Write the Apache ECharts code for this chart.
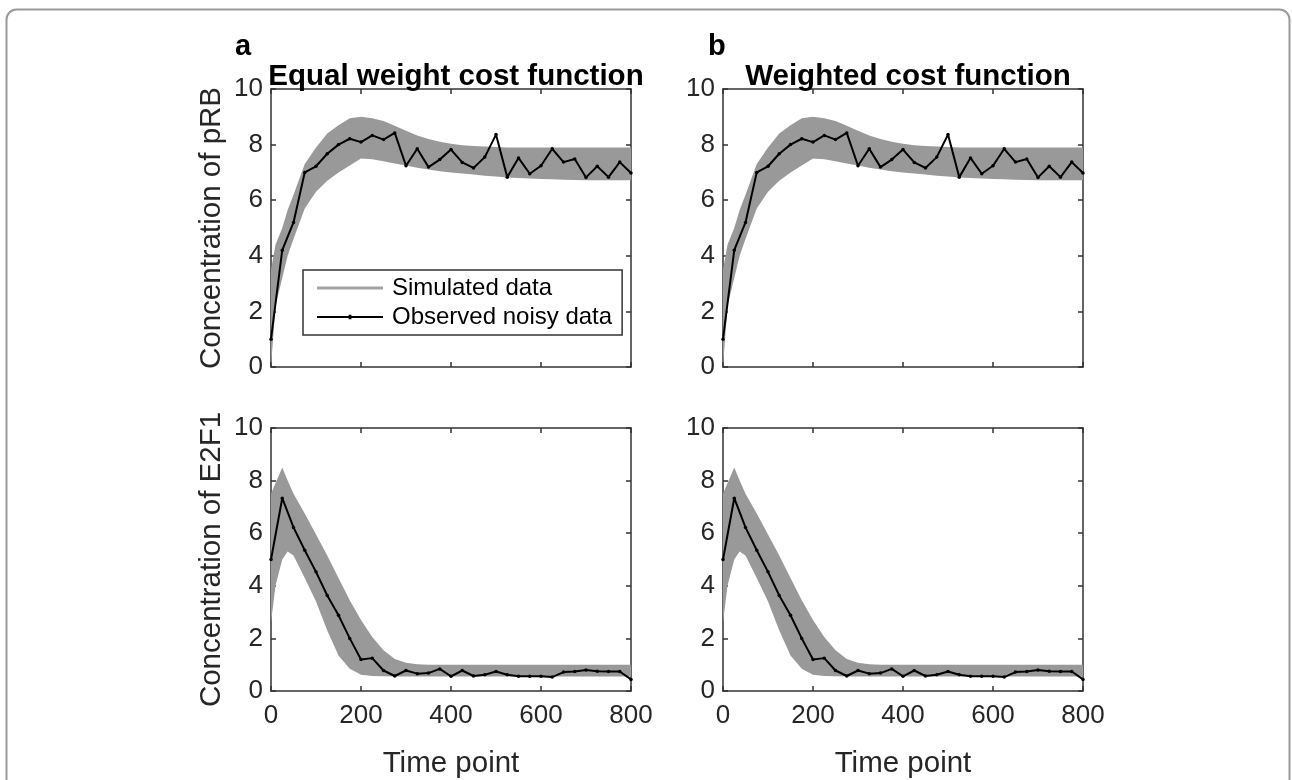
<!DOCTYPE html>
<html>
<head>
<meta charset="utf-8">
<title>Cost function comparison</title>
<script src="https://cdn.jsdelivr.net/npm/echarts@6/dist/echarts.min.js"></script>
<style>
  html, body { margin: 0; padding: 0; background: #ffffff; }
  #chart { width: 1292px; height: 780px; }
</style>
</head>
<body>
<div id="chart"></div>
<script>
// Sampling times of the observed (noisy) measurements
const obsTime = [0, 25, 50, 75, 100, 125, 150, 175, 200, 225, 250, 275, 300, 325, 350, 375, 400,
                 425, 450, 475, 500, 525, 550, 575, 600, 625, 650, 675, 700, 725, 750, 775, 800];

// Observed noisy pRB concentration
const pRBObserved = [1.0, 4.2, 5.2, 7.0, 7.22, 7.67, 8.0, 8.21, 8.09, 8.33, 8.18, 8.42, 7.24, 7.85, 7.19, 7.46, 7.82,
                     7.36, 7.16, 7.55, 8.36, 6.83, 7.52, 6.95, 7.24, 7.85, 7.37, 7.48, 6.82, 7.22, 6.83, 7.37, 6.98];

// Observed noisy E2F1 concentration
const e2f1Observed = [5.0, 7.33, 6.22, 5.35, 4.53, 3.63, 2.88, 2.0, 1.2, 1.25, 0.78, 0.57, 0.78, 0.66, 0.68, 0.84, 0.56,
                      0.78, 0.57, 0.62, 0.74, 0.62, 0.56, 0.56, 0.56, 0.53, 0.72, 0.74, 0.8, 0.75, 0.74, 0.74, 0.44];

// Time grid of the simulated envelopes
const bandTime = [0, 10, 25, 37, 50, 75, 100, 125, 150, 175, 200, 225, 250, 275, 300, 325, 350, 375, 400,
                  425, 450, 475, 500, 525, 550, 575, 600, 625, 650, 675, 700, 725, 750, 775, 800];

// Simulated pRB envelope (upper / lower)
const pRBUpper = [3.5, 4.4, 5.0, 5.65, 6.2, 7.3, 7.9, 8.4, 8.7, 8.95, 9.0, 8.95, 8.85, 8.68, 8.5, 8.33, 8.2, 8.1, 8.03,
                  7.98, 7.95, 7.93, 7.91, 7.9, 7.9, 7.9, 7.9, 7.9, 7.9, 7.9, 7.9, 7.9, 7.9, 7.9, 7.9];
const pRBLower = [0, 2.2, 3.2, 4.0, 4.6, 5.7, 6.3, 6.7, 7.0, 7.25, 7.5, 7.47, 7.4, 7.32, 7.25, 7.17, 7.1, 7.04, 7.0,
                  6.96, 6.92, 6.88, 6.85, 6.82, 6.8, 6.78, 6.76, 6.75, 6.74, 6.73, 6.72, 6.72, 6.72, 6.72, 6.72];

// Simulated E2F1 envelope (upper / lower)
const e2f1Upper = [7.5, 7.9, 8.5, 8.0, 7.5, 6.75, 5.95, 5.15, 4.3, 3.45, 2.7, 2.05, 1.55, 1.22, 1.07, 1.02, 1.0, 1.0, 1.0,
                   1.0, 1.0, 1.0, 1.0, 1.0, 1.0, 1.0, 1.0, 1.0, 1.0, 1.0, 1.0, 1.0, 1.0, 1.0, 1.0];
const e2f1Lower = [2.6, 4.0, 5.0, 5.3, 5.15, 4.3, 3.4, 2.3, 1.35, 0.85, 0.62, 0.57, 0.56, 0.55, 0.55, 0.55, 0.55, 0.55, 0.55,
                   0.55, 0.55, 0.55, 0.55, 0.55, 0.55, 0.55, 0.55, 0.55, 0.55, 0.55, 0.55, 0.55, 0.55, 0.55, 0.55];

// Axis ticks
const xTicks = [0, 200, 400, 600, 800];
const yTicks = [0, 2, 4, 6, 8, 10];

const panelTitles = ['Equal weight cost function', 'Weighted cost function'];
const panelLetters = ['a', 'b'];
const yNames = ['Concentration of pRB', 'Concentration of E2F1'];
const xName = 'Time point';
const legendNames = ['Simulated data', 'Observed noisy data'];

const FONT = '"Liberation Sans", Arial, Helvetica, sans-serif';
const AXIS_COLOR = '#333333';
const TEXT_COLOR = '#262626';
const BAND_COLOR = '#999999';
const LEGEND_GREY = '#a3a3a3';

// Plot boxes
const PW = 360, PH = 278;
const lefts = [271, 723];
const tops = [89, 428];

const grids = [], xAxes = [], yAxes = [], series = [], titles = [];

function zip(xs, ys) { return xs.map((x, i) => [x, ys[i]]); }

// Filled envelope between lower and upper curves, drawn as one polygon in data coordinates
function bandSeries(axisIdx, lo, hi) {
  return {
    type: 'custom',
    xAxisIndex: axisIdx, yAxisIndex: axisIdx,
    silent: true, clip: true, z: 1,
    data: [[bandTime[0], lo[0]]],
    renderItem: function (params, api) {
      const pts = [];
      for (let i = 0; i < bandTime.length; i++) pts.push(api.coord([bandTime[i], hi[i]]));
      for (let i = bandTime.length - 1; i >= 0; i--) pts.push(api.coord([bandTime[i], lo[i]]));
      return { type: 'polygon', shape: { points: pts }, style: { fill: BAND_COLOR, stroke: null } };
    }
  };
}

const axisLine = { show: true, onZero: false, lineStyle: { color: AXIS_COLOR, width: 1.5 } };
const inTick = { show: true, inside: true, length: 5, lineStyle: { color: AXIS_COLOR, width: 1.5 } };

let gi = 0;
for (let col = 0; col < 2; col++) {
  for (let row = 0; row < 2; row++) {
    grids.push({ left: lefts[col], top: tops[row], width: PW, height: PH, containLabel: false });
    const isBottom = row === 1;
    const isLeft = col === 0;
    xAxes.push({
      type: 'value', gridIndex: gi, min: 0, max: 800, interval: 200, position: 'bottom',
      axisLine: axisLine, axisTick: inTick,
      axisLabel: { show: isBottom, color: TEXT_COLOR, fontSize: 26, fontFamily: FONT, margin: 12,
                   formatter: v => (xTicks.indexOf(v) >= 0 ? String(v) : '') },
      splitLine: { show: false },
      name: isBottom ? xName : '', nameLocation: 'middle', nameGap: 58,
      nameTextStyle: { color: TEXT_COLOR, fontSize: 29.5, fontFamily: FONT }
    });
    yAxes.push({
      type: 'value', gridIndex: gi, min: 0, max: 10, interval: 2, position: 'left',
      axisLine: axisLine, axisTick: inTick,
      axisLabel: { show: true, color: TEXT_COLOR, fontSize: 26, fontFamily: FONT, margin: 8,
                   formatter: v => (yTicks.indexOf(v) >= 0 ? String(v) : '') },
      splitLine: { show: false },
      name: isLeft ? yNames[row] : '', nameLocation: 'middle', nameGap: 44, nameRotate: 90,
      nameTextStyle: { color: TEXT_COLOR, fontSize: 29.5, fontFamily: FONT }
    });
    gi++;
  }
}
// Top and right box edges with inward ticks
for (let k = 0; k < 4; k++) {
  xAxes.push({
    type: 'value', gridIndex: k, min: 0, max: 800, interval: 200, position: 'top',
    axisLine: axisLine, axisTick: inTick, axisLabel: { show: false }, splitLine: { show: false }
  });
  yAxes.push({
    type: 'value', gridIndex: k, min: 0, max: 10, interval: 2, position: 'right',
    axisLine: axisLine, axisTick: inTick, axisLabel: { show: false }, splitLine: { show: false }
  });
}

// Axis index layout: 0 = a/pRB, 1 = a/E2F1, 2 = b/pRB, 3 = b/E2F1
const panelData = [
  { lo: pRBLower, hi: pRBUpper, obs: pRBObserved },
  { lo: e2f1Lower, hi: e2f1Upper, obs: e2f1Observed },
  { lo: pRBLower, hi: pRBUpper, obs: pRBObserved },
  { lo: e2f1Lower, hi: e2f1Upper, obs: e2f1Observed }
];
panelData.forEach((p, k) => {
  series.push(bandSeries(k, p.lo, p.hi));
  series.push({
    name: legendNames[1], type: 'line', xAxisIndex: k, yAxisIndex: k, z: 3,
    data: zip(obsTime, p.obs),
    symbol: 'circle', symbolSize: 3.5, showSymbol: true,
    itemStyle: { color: '#000000' },
    lineStyle: { color: '#000000', width: 2 }
  });
});
// Legend entry for the simulated envelope
series.push({
  name: legendNames[0], type: 'line', xAxisIndex: 0, yAxisIndex: 0, data: [],
  showSymbol: false,
  itemStyle: { color: LEGEND_GREY }, lineStyle: { color: LEGEND_GREY, width: 3 }
});

for (let col = 0; col < 2; col++) {
  titles.push({
    text: panelTitles[col], left: lefts[col] + PW / 2, top: 57, textAlign: 'center',
    textStyle: { fontSize: 29.5, fontWeight: 'bold', color: '#000000', fontFamily: FONT }
  });
  titles.push({
    text: panelLetters[col], left: [230, 703][col], top: 27,
    textStyle: { fontSize: 29, fontWeight: 'bold', color: '#000000', fontFamily: FONT }
  });
}

const option = {
  animation: false,
  backgroundColor: '#ffffff',
  title: titles,
  grid: grids,
  xAxis: xAxes,
  yAxis: yAxes,
  legend: {
    data: [
      { name: legendNames[0], icon: 'path://M0,0H66V3H0Z' },
      { name: legendNames[1], icon: 'path://M0,1.2H66V3.2H0Z M31.6,0H34.4V4.4H31.6Z' }
    ],
    orient: 'vertical', left: 303, top: 270,
    backgroundColor: '#ffffff',
    borderColor: AXIS_COLOR, borderWidth: 1.5, borderRadius: 0,
    padding: [6, 10, 6, 14], itemGap: 5, itemWidth: 66, itemHeight: 14,
    textStyle: { fontSize: 24, color: '#000000', fontFamily: FONT, padding: [0, 0, 0, 4] },
    selectedMode: false, z: 10
  },
  graphic: [{
    type: 'rect', left: 4, top: 7, z: 100, silent: true,
    shape: { x: 0, y: 0, width: 1283, height: 820, r: 10 },
    style: { fill: null, stroke: '#9a9a9a', lineWidth: 2 }
  }],
  series: series
};

const chart = echarts.init(document.getElementById('chart'), null, { renderer: 'canvas' });
chart.setOption(option);
</script>
</body>
</html>
